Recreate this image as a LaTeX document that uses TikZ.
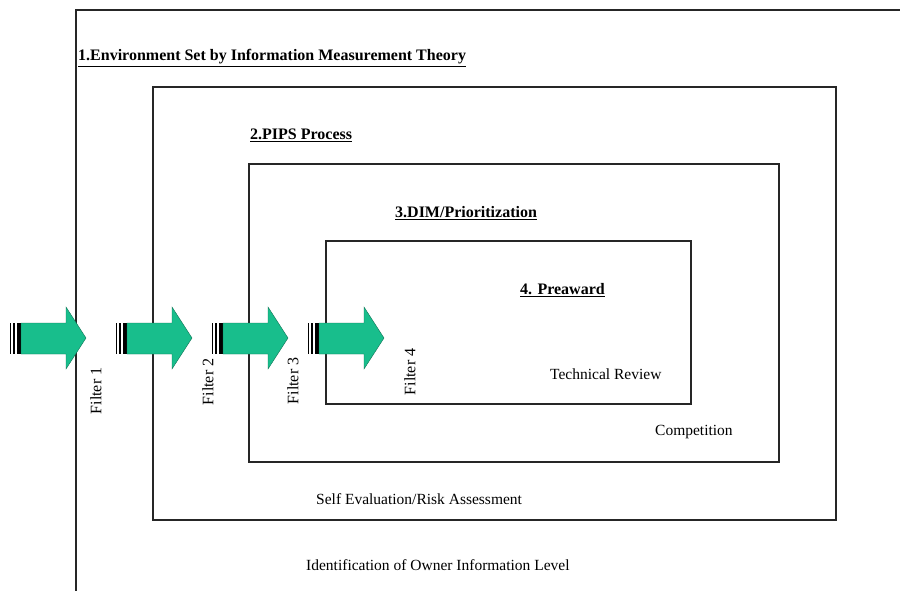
\documentclass[tikz,border=0pt]{standalone}
\usepackage{fontspec}
\setmainfont{Liberation Serif}
\definecolor{arrowgreen}{RGB}{24,190,140}
\begin{document}
\begin{tikzpicture}[x=1pt,y=-1pt,
  frame/.style={draw=black!85,line width=1.3pt},
  title/.style={anchor=west,inner sep=0pt,font=\fontsize{16}{18}\selectfont\bfseries},
  plain/.style={anchor=west,inner sep=0pt,font=\fontsize{15.5}{18}\selectfont},
  filterlbl/.style={rotate=90,inner sep=0pt,font=\fontsize{16}{18}\selectfont}]
\useasboundingbox (0,0) rectangle (900,591);
\fill[white] (0,0) rectangle (900,591);
\begin{scope}
\clip (0,0) rectangle (900,591);
\draw[frame] (76,10) rectangle (920,610);
\end{scope}
\draw[frame] (153,87) rectangle (836,520);
\draw[frame] (249,164) rectangle (779,462);
\draw[frame] (326,241) rectangle (691,404);
% arrows
\foreach \x in {9,115,211,307}{
  \fill[black] (\x+0.5,323) rectangle (\x+2,354);
  \fill[black] (\x+4,323) rectangle (\x+5.5,354);
  \fill[black] (\x+8,323) rectangle (\x+12,354);
  \filldraw[fill=arrowgreen,draw=arrowgreen!60!black,line width=0.4pt]
    (\x+12,323) -- (\x+57,323) -- (\x+57,307) -- (\x+77,338) -- (\x+57,369)
    -- (\x+57,354) -- (\x+12,354) -- cycle;
}
\node[title] (t1) at (78,58) {\underline{1.Environment Set by Information Measurement Theory}};
\node[title] (t2) at (250,135) {\underline{2.PIPS Process}};
\node[title] (t3) at (395,213) {\underline{3.DIM/Prioritization}};
\node[title] (t4) at (520,290) {\underline{4. Preaward}};
\node[plain] (tr) at (550,374) {Technical Review};
\node[plain] (co) at (655,432) {Competition};
\node[plain] (se) at (316,499) {Self Evaluation/Risk Assessment};
\node[plain] (id) at (306,565) {Identification of Owner Information Level};
\node[filterlbl] (f1) at (96,391) {Filter 1};
\node[filterlbl] (f2) at (208,382) {Filter 2};
\node[filterlbl] (f3) at (293,381) {Filter 3};
\node[filterlbl] (f4) at (410,372) {Filter 4};
\end{tikzpicture}
\end{document}
